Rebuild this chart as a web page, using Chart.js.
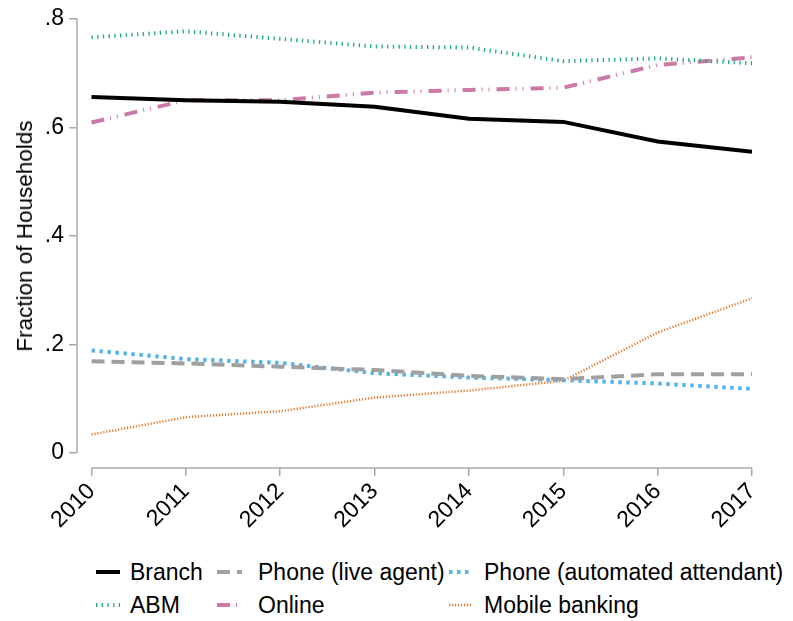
<!DOCTYPE html>
<html>
<head>
<meta charset="utf-8">
<script src="https://cdn.jsdelivr.net/npm/chart.js@4.4.1/dist/chart.umd.min.js"></script>
<style>
  html,body{margin:0;padding:0;background:#fff;}
  body{width:793px;height:621px;position:relative;overflow:hidden;font-family:"Liberation Sans",Arial,Helvetica,sans-serif;}
  #wrap{position:absolute;left:0;top:0;width:793px;height:548px;}
  #ytitle{position:absolute;left:25px;top:236px;transform:translate(-50%,-50%) rotate(-90deg);white-space:nowrap;font-size:22.5px;color:#000;}
  .li{position:absolute;height:30px;display:flex;align-items:center;font-size:23px;color:#000;white-space:nowrap;}
  .li svg{margin-right:10px;}
</style>
</head>
<body>
<div id="wrap"><canvas id="c"></canvas></div>
<div id="ytitle">Fraction of Households</div>
<div id="legend"></div>
<script>
const years = [2010, 2011, 2012, 2013, 2014, 2015, 2016, 2017];
const branch       = [0.656, 0.650, 0.647, 0.638, 0.616, 0.610, 0.574, 0.555];
const phoneLive    = [0.169, 0.165, 0.159, 0.153, 0.142, 0.136, 0.145, 0.145];
const phoneAuto    = [0.189, 0.173, 0.166, 0.147, 0.139, 0.134, 0.128, 0.118];
const abm          = [0.766, 0.777, 0.763, 0.749, 0.747, 0.722, 0.727, 0.718];
const online       = [0.609, 0.650, 0.650, 0.664, 0.669, 0.673, 0.715, 0.729];
const mobile       = [0.034, 0.066, 0.077, 0.102, 0.115, 0.133, 0.222, 0.285];
const yTickValues  = [0, 0.2, 0.4, 0.6, 0.8];
const yTickLabels  = ['0', '.2', '.4', '.6', '.8'];
const seriesNames  = ['Branch', 'Phone (live agent)', 'Phone (automated attendant)', 'ABM', 'Online', 'Mobile banking'];

const styles = [
  {color:'#000000', width:4,   dash:[]},
  {color:'#a0a0a0', width:4,   dash:[13,7]},
  {color:'#56b4e9', width:4,   dash:[3.5,4.5]},
  {color:'#1aab7d', width:4,   dash:[1.3,4.4]},
  {color:'#cc79a7', width:4,   dash:[13,6,1,6,1,7]},
  {color:'#e2792e', width:2.5, dash:[1.2,1.8]}
];
const values = [branch, phoneLive, phoneAuto, abm, online, mobile];
const FONT = '"Liberation Sans", Arial, Helvetica, sans-serif';

const datasets = values.map((v, i) => ({
  label: seriesNames[i],
  data: years.map((y, k) => ({x: y, y: v[k]})),
  borderColor: styles[i].color,
  borderWidth: styles[i].width,
  borderDash: styles[i].dash,
  borderCapStyle: 'butt',
  pointRadius: 0,
  tension: 0,
  fill: false
}));

const axisLines = {
  id: 'axisLines',
  beforeDatasetsDraw(chart) {
    const ctx = chart.ctx, xs = chart.scales.x, ys = chart.scales.y, a = chart.chartArea;
    ctx.save();
    ctx.strokeStyle = '#aaaaaa';
    ctx.lineWidth = 1.5;
    ctx.beginPath();
    ctx.moveTo(xs.getPixelForValue(years[0]), a.bottom);
    ctx.lineTo(xs.getPixelForValue(years[years.length-1]), a.bottom);
    ctx.moveTo(a.left, ys.getPixelForValue(yTickValues[0]));
    ctx.lineTo(a.left, ys.getPixelForValue(yTickValues[yTickValues.length-1]));
    ctx.stroke();
    ctx.restore();
  }
};

new Chart(document.getElementById('c'), {
  type: 'line',
  data: {datasets},
  options: {
    responsive: true,
    maintainAspectRatio: false,
    animation: false,
    layout: {padding: {left: 0, right: 41, top: 10, bottom: 0}},
    plugins: {legend: {display: false}, tooltip: {enabled: false}},
    scales: {
      x: {
        type: 'linear',
        min: 2009.846,
        max: 2017,
        afterBuildTicks: s => { s.ticks = years.map(v => ({value: v})); },
        afterFit: s => { s.height = 80; },
        border: {display: false},
        grid: {drawOnChartArea: false, drawTicks: true, tickLength: 8, color: '#aaaaaa', lineWidth: 1.5},
        ticks: {
          autoSkip: false, minRotation: 45, maxRotation: 45, padding: 2,
          color: '#000', font: {family: FONT, size: 23},
          callback: v => String(v)
        }
      },
      y: {
        min: -0.0277,
        max: 0.8,
        afterBuildTicks: s => { s.ticks = yTickValues.map(v => ({value: v})); },
        afterFit: s => { s.width = 77; },
        border: {display: false},
        grid: {drawOnChartArea: false, drawTicks: true, tickLength: 8, color: '#aaaaaa', lineWidth: 1.5},
        ticks: {
          padding: 5, color: '#000', font: {family: FONT, size: 23},
          callback: (v) => { const i = yTickValues.findIndex(t => Math.abs(t - v) < 1e-9); return i >= 0 ? yTickLabels[i] : ''; }
        }
      }
    }
  },
  plugins: [axisLines]
});

// legend (3 columns, 2 rows)
const legendPos = [
  {x: 96,  y: 557}, {x: 217, y: 557}, {x: 449, y: 557},
  {x: 96,  y: 590}, {x: 217, y: 590}, {x: 449, y: 590}
];
const legendOrder = [0, 1, 2, 3, 4, 5];
const sampleW = [24, 25, 22, 24, 25, 22];
const textX = [130, 258, 484];
const lg = document.getElementById('legend');
legendOrder.forEach((si, k) => {
  const st = styles[si];
  const col = k % 3;
  const d = document.createElement('div');
  d.className = 'li';
  d.style.left = legendPos[k].x + 'px';
  d.style.top = legendPos[k].y + 'px';
  const w = textX[col] - legendPos[k].x - 10;
  d.innerHTML = '<svg width="' + w + '" height="10"><line x1="0" y1="5" x2="' + sampleW[k] + '" y2="5" stroke="' + st.color +
    '" stroke-width="' + st.width + '" stroke-dasharray="' + (st.dash.length ? st.dash.join(',') : 'none') + '"/></svg>' +
    '<span>' + seriesNames[si] + '</span>';
  lg.appendChild(d);
});
</script>
</body>
</html>
